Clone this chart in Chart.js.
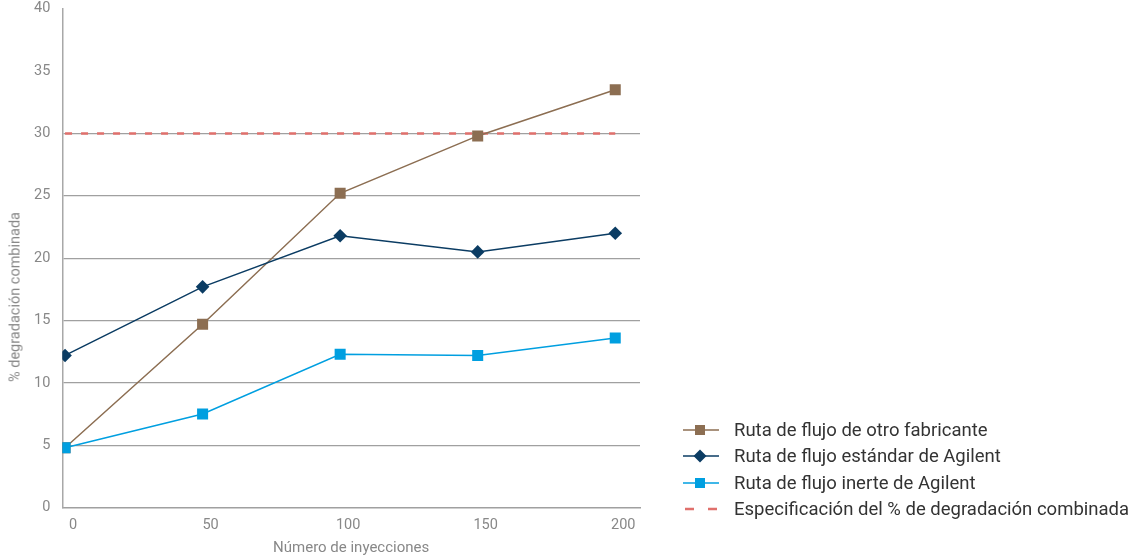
<!DOCTYPE html>
<html>
<head>
<meta charset="utf-8">
<script src="https://cdn.jsdelivr.net/npm/chart.js@4"></script>
<style>
  html, body { margin: 0; padding: 0; background: #fff; overflow: hidden; }
  #wrap { position: relative; width: 1134px; height: 559px; overflow: hidden; }
  #chartBox { position: absolute; left: 0; top: -12px; width: 660px; height: 573px; }
  #yTitle {
    position: absolute; left: 15px; top: 297px; white-space: nowrap;
    transform: translate(-50%, -50%) rotate(-90deg);
    font-family: Roboto, sans-serif; font-size: 14.5px; color: #888;
  }
  #legend { position: absolute; left: 683px; top: 417px; font-family: Roboto, sans-serif; font-size: 18.5px; color: #333; }
  .row { display: flex; align-items: center; height: 26.3px; }
  .row canvas { margin-right: 15px; }
</style>
</head>
<body>
<div id="wrap">
  <div id="chartBox"><canvas id="chart"></canvas></div>
  <div id="yTitle">% degradación combinada</div>
  <div id="legend"></div>
</div>
<script>
const injections = [0, 50, 100, 150, 200]
const xTicks = [0, 50, 100, 150, 200]
const yTicks = [0, 5, 10, 15, 20, 25, 30, 35, 40]

const otherVendor = [4.8, 14.7, 25.2, 29.8, 33.5]
const agilentStandard = [12.2, 17.7, 21.8, 20.5, 22.0]
const agilentInert = [4.8, 7.5, 12.3, 12.2, 13.6]
const specLimit = [30, 30, 30, 30, 30]

const seriesNames = [
  "Ruta de flujo de otro fabricante",
  "Ruta de flujo estándar de Agilent",
  "Ruta de flujo inerte de Agilent",
  "Especificación del % de degradación combinada"
]

const pts = vals => vals.map((v, i) => ({ x: injections[i], y: v }))

const datasets = [
  {
    label: seriesNames[0], data: pts(otherVendor), order: 2,
    borderColor: "#8c6e52", backgroundColor: "#8c6e52", borderWidth: 1.5,
    pointStyle: "rect", pointRadius: 7.8, pointBorderWidth: 0
  },
  {
    label: seriesNames[1], data: pts(agilentStandard), order: 1,
    borderColor: "#0b3c63", backgroundColor: "#0b3c63", borderWidth: 1.5,
    pointStyle: "rectRot", pointRadius: 6.8, pointBorderWidth: 0
  },
  {
    label: seriesNames[2], data: pts(agilentInert), order: 0,
    borderColor: "#009fe0", backgroundColor: "#009fe0", borderWidth: 1.5,
    pointStyle: "rect", pointRadius: 7.8, pointBorderWidth: 0
  },
  {
    label: seriesNames[3], data: pts(specLimit), order: 3,
    borderColor: "#e0706c", borderWidth: 2.5, borderDash: [7, 9],
    pointRadius: 0
  }
]

const tickFont = { family: "Roboto", size: 14.5 }
const titleFont = { family: "Roboto", size: 15 }

new Chart(document.getElementById("chart"), {
  type: "line",
  data: { datasets },
  options: {
    responsive: true,
    maintainAspectRatio: false,
    animation: false,
    layout: { padding: { top: 0, right: 20, left: 22, bottom: 0 } },
    plugins: { legend: { display: false }, tooltip: { enabled: false } },
    scales: {
      x: {
        type: "linear",
        min: -1,
        max: 209,
        afterBuildTicks: s => { s.ticks = xTicks.map(v => ({ value: v })) },
        grid: { display: false },
        border: { display: true, color: "#a0a0a0", width: 1.5 },
        ticks: { font: tickFont, color: "#888", labelOffset: 8, padding: 1, maxRotation: 0 },
        title: { display: true, text: "Número de inyecciones", font: titleFont, color: "#888", padding: { top: 4 } }
      },
      y: {
        min: 0,
        max: 40,
        afterBuildTicks: s => { s.ticks = yTicks.map(v => ({ value: v })) },
        grid: {
          drawTicks: false,
          lineWidth: 1.2,
          color: c => (c.tick && c.tick.value > 0 && c.tick.value <= 30) ? "#a0a0a0" : "rgba(0,0,0,0)"
        },
        border: { display: true, color: "#a8a8a8", width: 1.5 },
        ticks: { font: tickFont, color: "#888", padding: 12 }
      }
    }
  }
})

// legend: line segment with the series marker in the middle
const legend = document.getElementById("legend")
datasets.forEach(ds => {
  const row = document.createElement("div")
  row.className = "row"
  const c = document.createElement("canvas")
  c.width = 36; c.height = 14
  const g = c.getContext("2d")
  g.strokeStyle = ds.borderColor
  g.lineWidth = ds.borderWidth
  if (ds.borderDash) {
    g.setLineDash([9, 14])
    g.lineWidth = 2.5
    g.beginPath(); g.moveTo(2, 7); g.lineTo(36, 7); g.stroke()
  } else {
    g.beginPath(); g.moveTo(0, 7); g.lineTo(36, 7); g.stroke()
    g.fillStyle = ds.backgroundColor
    if (ds.pointStyle === "rectRot") {
      g.beginPath(); g.moveTo(17, 0.5); g.lineTo(23.5, 7); g.lineTo(17, 13.5); g.lineTo(10.5, 7); g.closePath(); g.fill()
    } else {
      g.fillRect(12, 2, 10, 10)
    }
  }
  const t = document.createElement("span")
  t.textContent = ds.label
  row.appendChild(c); row.appendChild(t)
  legend.appendChild(row)
})
</script>
</body>
</html>
